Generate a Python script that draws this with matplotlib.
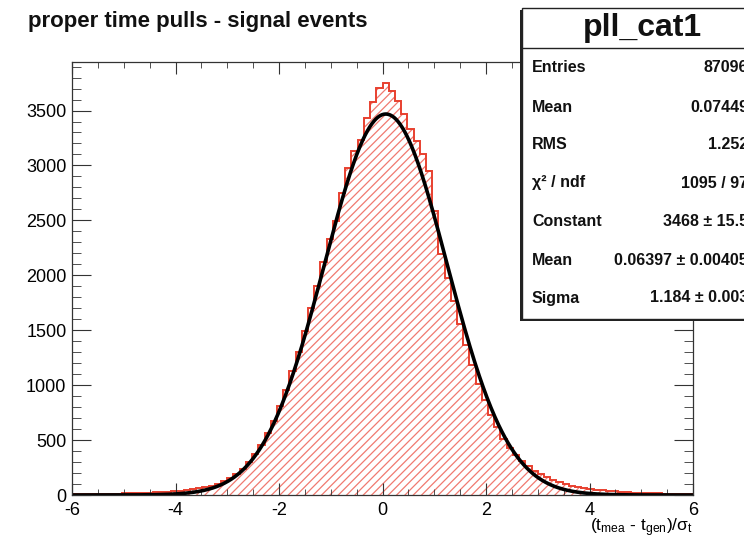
import numpy as np
import matplotlib
matplotlib.use("Agg")
import matplotlib.pyplot as plt
from matplotlib.patches import Rectangle
from matplotlib.lines import Line2D
from matplotlib.ticker import MultipleLocator

plt.rcParams['font.family'] = ['Liberation Sans', 'DejaVu Sans']
plt.rcParams['mathtext.fontset'] = 'custom'
plt.rcParams['mathtext.rm'] = 'Liberation Sans'
plt.rcParams['mathtext.it'] = 'Liberation Sans'
plt.rcParams['axes.unicode_minus'] = False
plt.rcParams['hatch.linewidth'] = 0.9

# histogram: 100 bins from -6 to 6
bin_lo, bin_hi, n_bins = -6.0, 6.0, 100
counts = [8, 9, 8, 10, 11, 10, 12, 13, 15, 14,
          17, 19, 21, 23, 27, 30, 34, 40, 45, 54,
          62, 72, 86, 101, 124, 152, 188, 236, 298, 372,
          458, 562, 676, 812, 958, 1125, 1302, 1490, 1702, 1905,
          2120, 2330, 2494, 2750, 2977, 3128, 3234, 3430, 3582, 3702,
          3754, 3678, 3588, 3467, 3328, 3219, 3101, 2947, 2584, 2195,
          1975, 1765, 1560, 1365, 1180, 1010, 862, 730, 615, 512,
          430, 362, 305, 262, 222, 190, 160, 138, 118, 100,
          86, 74, 64, 55, 48, 42, 36, 32, 28, 25,
          22, 19, 17, 15, 14, 12, 11, 10, 9, 9]

# gaussian fit result
fit_const, fit_mean, fit_sigma = 3468.0, 0.06397, 1.184

hist_title = "proper time pulls - signal events"
stats_name = "pll_cat1"
stat_labels = ["Entries", "Mean", "RMS", "\u03c7\u00b2 / ndf", "Constant", "Mean", "Sigma"]
stat_values = ["87096", "0.07449", "1.252", "1095 / 97",
               "3468 \u00b1 15.5", "0.06397 \u00b1 0.00405", "1.184 \u00b1 0.003"]

W, H = 744, 535


def px(x, y):
    return x / W, 1 - y / H


fig = plt.figure(figsize=(W / 100, H / 100), dpi=100)
ax = fig.add_axes([72 / W, 1 - 495 / H, (693 - 72) / W, (495 - 62) / H])

edges = np.linspace(bin_lo, bin_hi, n_bins + 1)
ax.stairs(counts, edges, fill=True, facecolor='none', edgecolor='#f07a70',
          hatch='////', linewidth=0)
ax.stairs(counts, edges, baseline=0, color='#e8402f', linewidth=1.4)

xs = np.linspace(bin_lo, bin_hi, 800)
ax.plot(xs, fit_const * np.exp(-0.5 * ((xs - fit_mean) / fit_sigma) ** 2),
        color='black', lw=2.6)

ax.set_xlim(bin_lo, bin_hi)
ax.set_ylim(0, max(counts) * 1.05)
ax.xaxis.set_major_locator(MultipleLocator(2))
ax.xaxis.set_minor_locator(MultipleLocator(0.5))
ax.yaxis.set_major_locator(MultipleLocator(500))
ax.yaxis.set_minor_locator(MultipleLocator(100))
for s in ax.spines.values():
    s.set_color('#333333')
    s.set_linewidth(0.9)
ax.tick_params(axis='x', which='both', direction='in', top=True, color='#333333',
               labelsize=13, pad=5)
ax.tick_params(axis='x', which='major', length=8.5)
ax.tick_params(axis='x', which='minor', length=4.3)
ax.tick_params(axis='y', which='both', direction='in', right=True, color='#333333',
               labelsize=13, pad=4)
ax.tick_params(axis='y', which='major', length=14)
ax.tick_params(axis='y', which='minor', length=6.5)

fig.text(*px(693, 528), r"(t$_{\rm mea}$ - t$_{\rm gen}$)/$\sigma_{\rm t}$",
         ha='right', va='center', fontsize=12.5)

fig.text(*px(28, 22), hist_title, ha='left', va='center', fontsize=16,
         fontweight='bold', color='#111111')

# stats box
bx0, by0, bx1, by1 = 522, 8, 768, 319
shadow = Rectangle(px(bx0 - 2, by1 + 2), (bx1 - bx0) / W, (by1 - by0) / H,
                   transform=fig.transFigure, facecolor='#222222',
                   edgecolor='none', zorder=5)
box = Rectangle(px(bx0, by1), (bx1 - bx0) / W, (by1 - by0) / H,
                transform=fig.transFigure, facecolor='white',
                edgecolor='#222222', linewidth=1.0, zorder=6)
fig.patches.extend([shadow, box])
fig.lines.append(Line2D([bx0 / W, bx1 / W], [1 - 48 / H, 1 - 48 / H],
                        transform=fig.transFigure, color='#222222', lw=1.0, zorder=7))
fig.text(*px(642, 28), stats_name, ha='center', va='center', fontsize=23,
         fontweight='bold', zorder=8, color='#111111')
row_y = [68, 107, 145, 183, 222, 260, 298]
for lab, val, y in zip(stat_labels, stat_values, row_y):
    fig.text(*px(532, y), lab, ha='left', va='center', fontsize=11.5,
             fontweight='bold', zorder=8, color='#111111')
    fig.text(*px(748, y), val, ha='right', va='center', fontsize=11.5,
             fontweight='bold', zorder=8, color='#111111')

fig.savefig('out.png', dpi=100)
